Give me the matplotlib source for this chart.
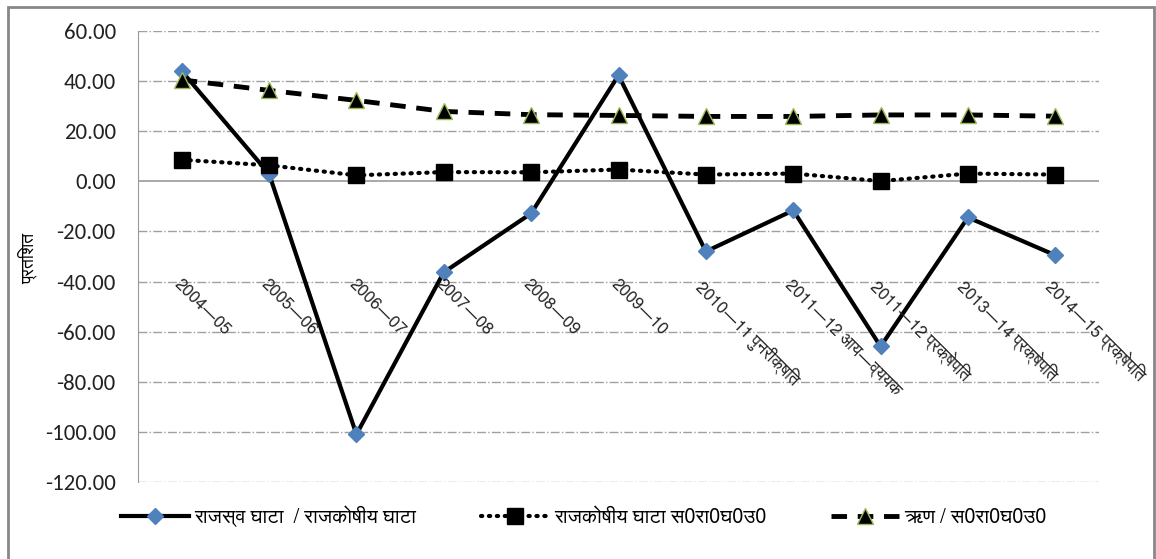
import numpy as np
import matplotlib
matplotlib.use("Agg")
import matplotlib.pyplot as plt
from matplotlib import font_manager
from matplotlib.patches import Rectangle

# data
years = ["2004—05", "2005—06", "2006—07", "2007—08", "2008—09", "2009—10",
         "2010—11 पुनरीक्षित", "2011—12 आय—व्ययक", "2011—12 प्रक्षेपित",
         "2013—14 प्रक्षेपित", "2014—15 प्रक्षेपित"]
revenue_vs_fiscal = [44.0, 3.0, -101.0, -36.3, -12.8, 42.3, -28.0, -11.6, -65.9, -14.4, -29.5]
fiscal_gdp = [8.6, 6.4, 2.4, 3.7, 3.6, 4.7, 2.7, 3.1, 0.1, 3.1, 2.7]
debt_gdp = [40.5, 36.3, 32.3, 27.9, 26.6, 26.3, 25.9, 25.9, 26.5, 26.5, 26.0]

series_names = ["राजस्व घाटा  / राजकोषीय घाटा", "राजकोषीय घाटा स0रा0घ0उ0", "ऋण / स0रा0घ0उ0"]
ylabel = "प्रतिशत"

installed = {f.name for f in font_manager.fontManager.ttflist}

def pick(cands, default="DejaVu Sans"):
    for c in cands:
        if c in installed:
            return c
    return default

deva = pick(["FreeSans", "Noto Sans Devanagari", "Mukta"])
num_font = pick(["Carlito", "Open Sans", "Noto Sans"])
fams = [deva, "DejaVu Sans"]
plt.rcParams["font.family"] = fams

fig = plt.figure(figsize=(11.56, 5.59), dpi=100)
ax = fig.add_axes([138/1156, 1-482/559, (1099-138)/1156, (482-31)/559])

x = np.arange(len(years))
ax.plot(x, revenue_vs_fiscal, color="black", lw=3, marker="D", ms=8,
        mfc="#4f81bd", mec="#4f81bd", label=series_names[0], zorder=3)
ax.plot(x, fiscal_gdp, color="black", lw=3, ls=(0, (0.3, 1.6)), dash_capstyle="round",
        marker="s", ms=12, mfc="black", mec="black", label=series_names[1], zorder=4)
ax.plot(x, debt_gdp, color="black", lw=3.5, ls=(0, (3.2, 2.2)), marker="^", ms=11,
        mfc="black", mec="#9bbb59", mew=1, label=series_names[2], zorder=4)

ax.set_xlim(-0.5, len(years) - 0.5)
ax.set_ylim(-120, 60)
ax.set_yticks(np.arange(-120, 61, 20))
ax.set_yticklabels([f"{v:.2f}" for v in np.arange(-120, 61, 20)], fontsize=16.5,
                   color="#222222", family=num_font)
ax.set_xticks([])
ax.tick_params(axis="y", length=0, pad=16)
for yy in np.arange(-120, 61, 20):
    if yy != 0:
        ax.axhline(yy, color="#a0a0a0", lw=1, ls="-.", zorder=1)
ax.axhline(0, color="#999999", lw=1.2, zorder=1)
for s in ["top", "right", "bottom"]:
    ax.spines[s].set_visible(False)
ax.spines["left"].set_color("#999999")

for i, lab in enumerate(years):
    ax.text(i + 0.0, -38, lab, rotation=-45, rotation_mode="anchor", ha="left", va="top",
            fontsize=12, color="#222222")

fig.text(28/1156, 1-258/559, ylabel, rotation=90, fontsize=12.5, ha="center", va="center")

leg = fig.legend(loc="lower center", bbox_to_anchor=(0.505, 0.025), ncol=3, frameon=False,
                 handlelength=3.4, columnspacing=3.2, handletextpad=0.25,
                 prop={"family": fams, "size": 14.5})

fig.patches.append(Rectangle((8/1156, -0.02), (1154-8)/1156, 1-7/559+0.02, transform=fig.transFigure,
                             fill=False, ec="#888888", lw=2))

fig.savefig("out.png", dpi=100)
